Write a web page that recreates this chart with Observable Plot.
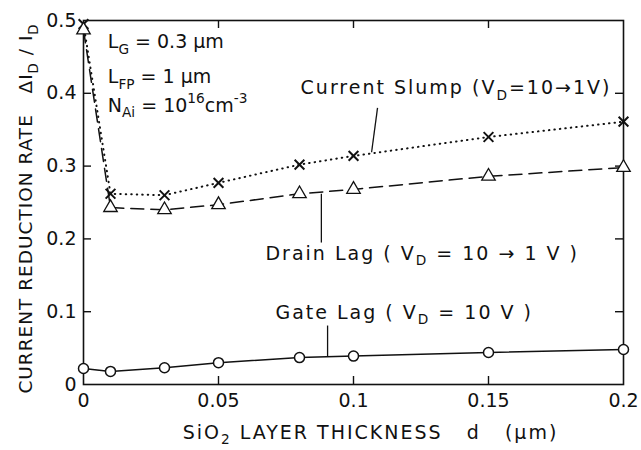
<!DOCTYPE html>
<html><head><meta charset="utf-8">
<script src="https://cdn.jsdelivr.net/npm/d3@7"></script>
<script src="https://cdn.jsdelivr.net/npm/@observablehq/plot@0.6"></script>
<style>
body{margin:0;background:#fff}
svg{font-family:"DejaVu Sans",sans-serif}
</style></head><body><div id="chart"></div>
<script>
// ---- data ----
const thickness = [0, 0.01, 0.03, 0.05, 0.08, 0.1, 0.15, 0.2];
const currentSlump = [0.495, 0.262, 0.260, 0.277, 0.302, 0.314, 0.340, 0.361];
const drainLag = [0.487, 0.243, 0.240, 0.247, 0.262, 0.268, 0.286, 0.298];
const gateLag = [0.022, 0.018, 0.023, 0.030, 0.037, 0.039, 0.044, 0.048];

const xTicks = [0, 0.05, 0.1, 0.15, 0.2];
const xTickLabels = ["0", "0.05", "0.1", "0.15", "0.2"];
const yTicks = [0, 0.1, 0.2, 0.3, 0.4, 0.5];
const yTickLabels = ["0", "0.1", "0.2", "0.3", "0.4", "0.5"];
const xInnerTicks = [0.05, 0.1, 0.15];
const yInnerTicks = [0.1, 0.2, 0.3, 0.4];

const xLabel = "SiO_{2}\u00a0LAYER\u00a0THICKNESS\u00a0\u00a0\u00a0d\u00a0\u00a0\u00a0(µm)";
const yLabel = "CURRENT\u00a0REDUCTION\u00a0RATE\u00a0\u00a0\u00a0ΔI_{D}\u00a0/\u00a0I_{D}";

const curveNotes = [
  "Current\u00a0Slump\u00a0(V_{D}=10→1V)",
  "Drain\u00a0Lag\u00a0(\u00a0V_{D}\u00a0=\u00a010\u00a0→\u00a01\u00a0V\u00a0)",
  "Gate\u00a0Lag\u00a0(\u00a0V_{D}\u00a0=\u00a010\u00a0V\u00a0)"
];
const curveNoteX = [0.0804, 0.0674, 0.0711];
const curveNoteY = [0.407, 0.180, 0.099];

const paramNotes = ["L_{G}\u00a0=\u00a00.3\u00a0µm", "L_{FP}\u00a0=\u00a01\u00a0µm", "N_{Ai}\u00a0=\u00a010^{16}cm^{-3}"];
const paramNoteX = [0.009, 0.009, 0.009];
const paramNoteY = [0.470, 0.422, 0.383];

const leaderX1 = [0.1089, 0.0881, 0.0904];
const leaderY1 = [0.380, 0.262, 0.081];
const leaderX2 = [0.1067, 0.0881, 0.0904];
const leaderY2 = [0.319, 0.195, 0.038];

// ---- tables ----
const rows = vals => thickness.map((x, i) => ({x, y: vals[i]}));
const slump = rows(currentSlump), drain = rows(drainLag), gate = rows(gateLag);
const curveTable = curveNotes.map((t, i) => ({text: t, x: curveNoteX[i], y: curveNoteY[i]}));
const paramTable = paramNotes.map((t, i) => ({text: t, x: paramNoteX[i], y: paramNoteY[i]}));
const leaders = leaderX1.map((x1, i) => ({x1, y1: leaderY1[i], x2: leaderX2[i], y2: leaderY2[i]}));

const W = 641, H = 450, ML = 83, MR = 18, MT = 20, MB = 66;
const plotW = W - ML - MR, plotH = H - MT - MB, tickLen = 8;
const ink = "#111";

const chart = Plot.plot({
  width: W, height: H,
  marginLeft: ML, marginRight: MR, marginTop: MT, marginBottom: MB,
  style: {fontFamily: "DejaVu Sans, sans-serif", fontSize: "19px", color: ink, background: "#fff"},
  x: {domain: [0, 0.2]},
  y: {domain: [0, 0.5]},
  marks: [
    Plot.frame({stroke: ink, strokeWidth: 1.6}),
    Plot.axisX(xTicks, {tickSize: 0, tickPadding: 9, tickFormat: d => xTickLabels[xTicks.indexOf(d)], label: null}),
    Plot.axisY(yTicks, {tickSize: 0, tickPadding: 7, tickFormat: d => yTickLabels[yTicks.indexOf(d)], label: null}),
    Plot.text([xLabel], {text: d => d, frameAnchor: "bottom", textAnchor: "middle", lineAnchor: "middle", dx: 17, dy: 48, fontSize: 19, fill: ink}),
    Plot.text([yLabel], {text: d => d, frameAnchor: "left", textAnchor: "middle", lineAnchor: "middle", rotate: -90, dx: -57, dy: 6, fontSize: 18.5, fill: ink}),
    Plot.tickX(xInnerTicks, {x: d => d, insetTop: plotH - tickLen, stroke: ink, strokeWidth: 1.4}),
    Plot.tickX(xInnerTicks, {x: d => d, insetBottom: plotH - tickLen, stroke: ink, strokeWidth: 1.4}),
    Plot.tickY(yInnerTicks, {y: d => d, insetRight: plotW - tickLen, stroke: ink, strokeWidth: 1.4}),
    Plot.tickY(yInnerTicks, {y: d => d, insetLeft: plotW - tickLen, stroke: ink, strokeWidth: 1.4}),
    Plot.line(slump, {x: "x", y: "y", stroke: ink, strokeWidth: 2, strokeDasharray: "0.5,5", strokeLinecap: "round"}),
    Plot.line(drain, {x: "x", y: "y", stroke: ink, strokeWidth: 1.5, strokeDasharray: "13,7"}),
    Plot.line(gate, {x: "x", y: "y", stroke: ink, strokeWidth: 1.5}),
    Plot.link(leaders, {x1: "x1", y1: "y1", x2: "x2", y2: "y2", stroke: ink, strokeWidth: 1.3}),
    Plot.dot(slump, {x: "x", y: "y", symbol: "times", r: 4.5, stroke: ink, strokeWidth: 2}),
    Plot.dot(drain, {x: "x", y: "y", symbol: "triangle", r: 5, fill: "white", stroke: ink, strokeWidth: 1.3}),
    Plot.dot(gate, {x: "x", y: "y", r: 5, fill: "white", stroke: ink, strokeWidth: 1.5}),
    Plot.text(curveTable, {x: "x", y: "y", text: "text", textAnchor: "start", fontSize: 19, fill: ink}),
    Plot.text(paramTable, {x: "x", y: "y", text: "text", textAnchor: "start", fontSize: 19, fill: ink})
  ]
});

// rich text: _{...} subscripts and ^{...} superscripts as tspans
function richText(el) {
  const s = el.textContent;
  if (!/[_^]\{/.test(s)) return;
  const fs = parseFloat(getComputedStyle(el).fontSize) || 19;
  const parts = s.split(/([_^]\{[^}]*\})/).filter(p => p.length);
  while (el.firstChild) el.removeChild(el.firstChild);
  let cur = 0;
  for (const p of parts) {
    let txt = p, shift = 0, small = false;
    if (p.startsWith("_{")) { txt = p.slice(2, -1); shift = 0.3 * fs; small = true; }
    else if (p.startsWith("^{")) { txt = p.slice(2, -1); shift = -0.45 * fs; small = true; }
    const t = document.createElementNS("http://www.w3.org/2000/svg", "tspan");
    t.textContent = txt;
    if (small) t.setAttribute("font-size", (0.72 * fs) + "px");
    if (shift !== cur) t.setAttribute("dy", (shift - cur) + "px");
    cur = shift;
    el.appendChild(t);
  }
}
document.getElementById("chart").appendChild(chart);
const svg = d3.select(chart);
svg.selectAll("text").each(function() { richText(this); });
svg.selectAll("text").filter(function() {
  const t = this.textContent;
  return t.startsWith("Current") || t.startsWith("Drain") || t.startsWith("Gate") || t.startsWith("SiO");
}).style("letter-spacing", "2px");
svg.selectAll("text").filter(function() { return this.textContent.startsWith("CURRENT"); }).style("letter-spacing", "1px");
</script></body></html>
